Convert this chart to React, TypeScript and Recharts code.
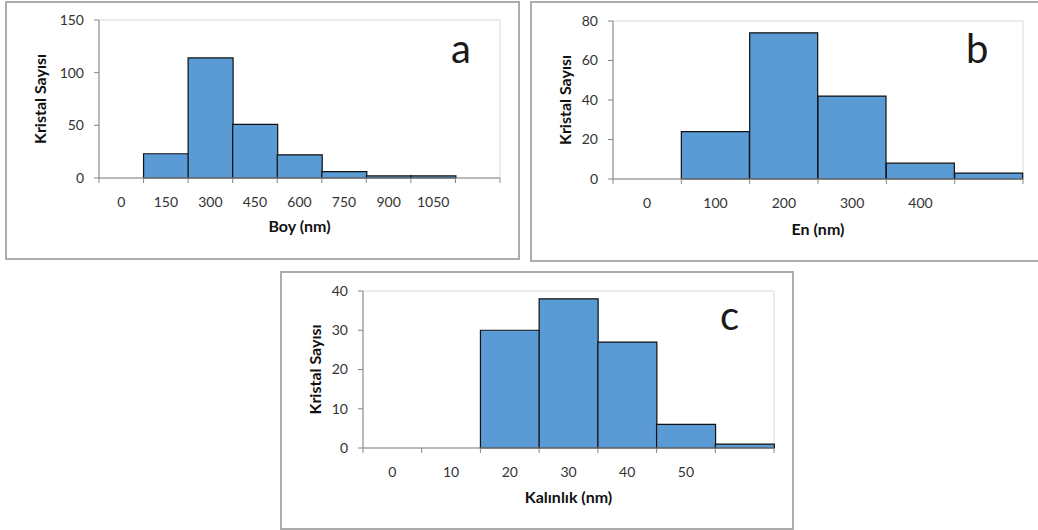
import React from 'react';
import {
  BarChart,
  Bar,
  XAxis,
  YAxis,
  ReferenceArea,
} from 'recharts';

// Boy (length) histogram
const boyLabels = ['0', '150', '300', '450', '600', '750', '900', '1050', ''];
const boyCounts = [0, 23, 114, 51, 22, 6, 2, 2, 0];
const boyTicks = [0, 50, 100, 150];

// En (width) histogram
const enLabels = ['0', '100', '200', '300', '400', ''];
const enCounts = [0, 24, 74, 42, 8, 3];
const enTicks = [0, 20, 40, 60, 80];

// Kalınlık (thickness) histogram
const kalinlikLabels = ['0', '10', '20', '30', '40', '50', ''];
const kalinlikCounts = [0, 0, 30, 38, 27, 6, 1];
const kalinlikTicks = [0, 10, 20, 30, 40];

const FONT = 'Lato, "Open Sans", sans-serif';
const AXIS_GRAY = '#868686';
const BAR_BLUE = '#5B9BD5';

interface PanelProps {
  labels: string[];
  counts: number[];
  yTicks: number[];
  xTitle: string;
  letter: string;
  box: { left: number; top: number; width: number; height: number };
  margin: { top: number; right: number; bottom: number; left: number };
  yTitleOffset: number;
  xTitleOffset: number;
  letterPos: { left: number; top: number };
}

function HistPanel({
  labels,
  counts,
  yTicks,
  xTitle,
  letter,
  box,
  margin,
  yTitleOffset,
  xTitleOffset,
  letterPos,
}: PanelProps) {
  const data = labels.map((label, i) => ({ label, idx: i, count: counts[i] }));
  const n = labels.length;
  const yMax = yTicks[yTicks.length - 1];
  const edges = Array.from({ length: n + 1 }, (_, i) => i);

  return (
    <>
      <div
        style={{
          position: 'absolute',
          left: box.left,
          top: box.top,
          width: box.width,
          height: box.height,
          border: '2px solid #acacac',
          boxSizing: 'border-box',
          background: '#fff',
        }}
      >
        <BarChart
          width={box.width - 4}
          height={box.height - 4}
          data={data}
          margin={margin}
          barCategoryGap={0}
          style={{ fontFamily: FONT }}
        >
          <XAxis
            xAxisId="cat"
            dataKey="label"
            height={60}
            interval={0}
            tickSize={0}
            tickMargin={14}
            axisLine={false}
            tickLine={false}
            tick={{ fontSize: 14, fill: '#333' }}
            label={{
              value: xTitle,
              position: 'insideBottom',
              offset: xTitleOffset,
              style: { fontSize: 16, fontWeight: 700, fill: '#111' },
            }}
          />
          {/* boundary tick marks between the bins, on a plain number axis */}
          <XAxis
            xAxisId="axisEdge"
            dataKey="idx"
            type="number"
            domain={[0, n]}
            ticks={edges}
            interval={0}
            height={5}
            tickSize={5}
            tickMargin={0}
            tickFormatter={() => ''}
            axisLine={{ stroke: AXIS_GRAY }}
            tickLine={{ stroke: AXIS_GRAY }}
          />
          <YAxis
            width={70}
            domain={[0, yMax]}
            ticks={yTicks}
            interval={0}
            tickSize={5}
            tickMargin={10}
            axisLine={{ stroke: AXIS_GRAY }}
            tickLine={{ stroke: AXIS_GRAY }}
            tick={{ fontSize: 14, fill: '#333' }}
            label={{
              value: 'Kristal Sayısı',
              angle: -90,
              position: 'insideLeft',
              offset: yTitleOffset,
              style: { textAnchor: 'middle', fontSize: 16, fontWeight: 700, fill: '#111' },
            }}
          />
          <ReferenceArea
            xAxisId="axisEdge"
            x1={0}
            x2={n}
            y1={0}
            y2={yMax}
            fill="none"
            stroke="#d9d9d9"
            strokeWidth={1}
          />
          <Bar
            xAxisId="cat"
            dataKey="count"
            fill={BAR_BLUE}
            stroke="#111"
            strokeWidth={1.2}
            isAnimationActive={false}
          />
        </BarChart>
      </div>
      <div
        style={{
          position: 'absolute',
          left: letterPos.left,
          top: letterPos.top,
          fontFamily: FONT,
          fontSize: 40,
          lineHeight: '40px',
          color: '#1a1a1a',
        }}
      >
        {letter}
      </div>
    </>
  );
}

export default function App() {
  return (
    <div
      style={{
        position: 'absolute',
        left: 0,
        top: 0,
        width: 1038,
        height: 530,
        overflow: 'hidden',
        background: '#fff',
      }}
    >
      <HistPanel
        labels={boyLabels}
        counts={boyCounts}
        yTicks={boyTicks}
        xTitle="Boy (nm)"
        letter="a"
        box={{ left: 5, top: 1, width: 515, height: 259 }}
        margin={{ top: 17, right: 18, bottom: 15, left: 22 }}
        yTitleOffset={11}
        xTitleOffset={11}
        letterPos={{ left: 451, top: 28 }}
      />
      <HistPanel
        labels={enLabels}
        counts={enCounts}
        yTicks={enTicks}
        xTitle="En (nm)"
        letter="b"
        box={{ left: 530, top: 1, width: 512, height: 261 }}
        margin={{ top: 18, right: 17, bottom: 16, left: 11 }}
        yTitleOffset={22}
        xTitleOffset={9}
        letterPos={{ left: 966, top: 28 }}
      />
      <HistPanel
        labels={kalinlikLabels}
        counts={kalinlikCounts}
        yTicks={kalinlikTicks}
        xTitle="Kalınlık (nm)"
        letter="c"
        box={{ left: 280, top: 271, width: 514, height: 259 }}
        margin={{ top: 18, right: 18, bottom: 15, left: 11 }}
        yTitleOffset={22}
        xTitleOffset={10}
        letterPos={{ left: 720, top: 295 }}
      />
    </div>
  );
}
